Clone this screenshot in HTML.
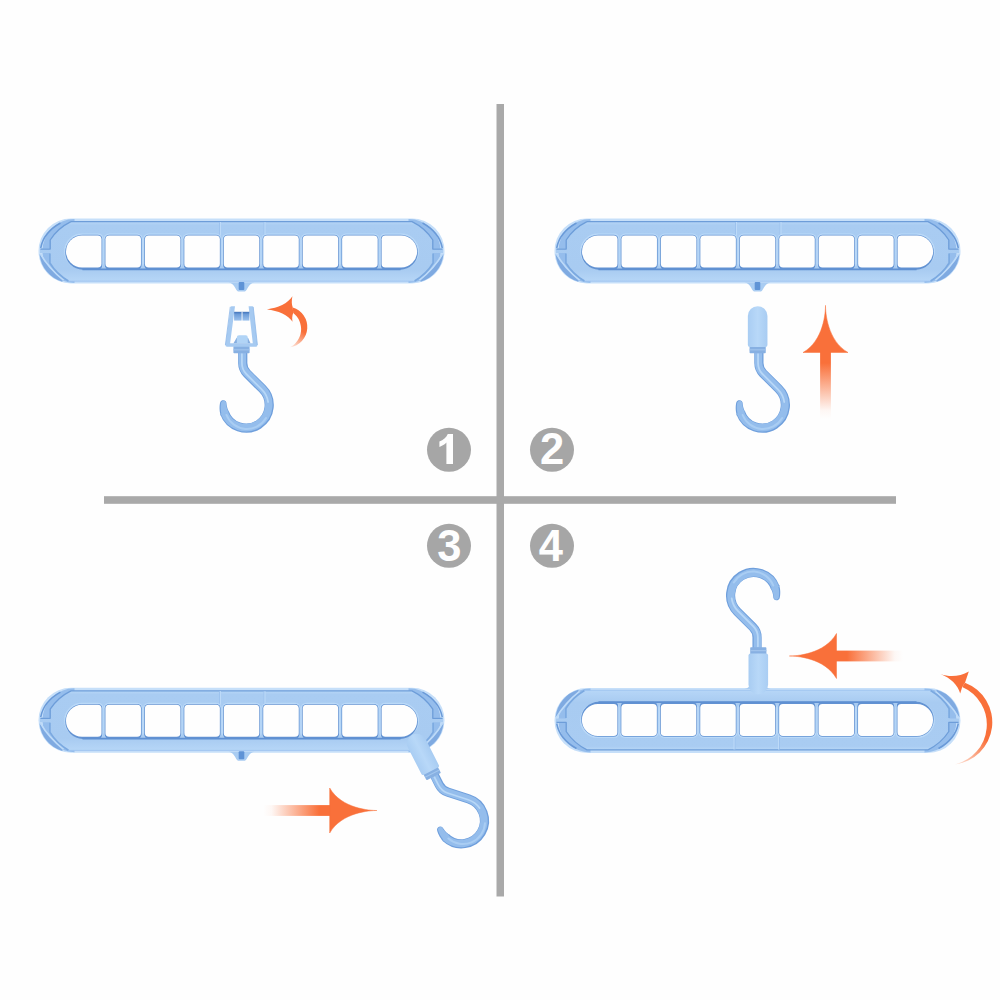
<!DOCTYPE html>
<html>
<head>
<meta charset="utf-8">
<title>Hanger steps</title>
<style>
html,body{margin:0;padding:0;background:#fefefe;}
body{width:1000px;height:1000px;overflow:hidden;font-family:"Liberation Sans",sans-serif;}
svg{display:block;}
</style>
</head>
<body>
<svg width="1000" height="1000" viewBox="0 0 1000 1000">
<defs>
  <linearGradient id="gBody" x1="0" y1="0" x2="0" y2="1">
    <stop offset="0" stop-color="#b7d6f6"/>
    <stop offset="0.06" stop-color="#a9ccf2"/>
    <stop offset="0.8" stop-color="#a8cbf1"/>
    <stop offset="1" stop-color="#b6d6f7"/>
  </linearGradient>
  <linearGradient id="gRim" x1="0" y1="0" x2="0" y2="1">
    <stop offset="0" stop-color="#86b4e8"/>
    <stop offset="1" stop-color="#8fbcee"/>
  </linearGradient>
  <linearGradient id="gFade" x1="0" y1="0" x2="1" y2="0">
    <stop offset="0" stop-color="#f9703a" stop-opacity="0"/>
    <stop offset="0.12" stop-color="#f9703a" stop-opacity="0.05"/>
    <stop offset="0.8" stop-color="#f9703a" stop-opacity="1"/>
    <stop offset="1" stop-color="#f9703a" stop-opacity="1"/>
  </linearGradient>
  <linearGradient id="gTail1" gradientUnits="userSpaceOnUse" x1="300" y1="330" x2="290" y2="348">
    <stop offset="0" stop-color="#f9703a" stop-opacity="1"/>
    <stop offset="1" stop-color="#f9703a" stop-opacity="0.1"/>
  </linearGradient>
  <linearGradient id="gTail4" gradientUnits="userSpaceOnUse" x1="985" y1="738" x2="955" y2="765">
    <stop offset="0" stop-color="#f9703a" stop-opacity="1"/>
    <stop offset="1" stop-color="#f9703a" stop-opacity="0.15"/>
  </linearGradient>
  <linearGradient id="gIns" x1="0" y1="0" x2="0" y2="1">
    <stop offset="0" stop-color="#3f72ba"/>
    <stop offset="0.3" stop-color="#6d9cd8"/>
    <stop offset="1" stop-color="#9cc2ee"/>
  </linearGradient>
  <linearGradient id="gCap" x1="0" y1="0" x2="1" y2="0">
    <stop offset="0" stop-color="#a9cdf3"/>
    <stop offset="0.5" stop-color="#b8d8f8"/>
    <stop offset="1" stop-color="#a8ccf2"/>
  </linearGradient>

  <!-- hanger: local origin at top-left of bounding box; size 406 x 65 -->
  <g id="hanger">
    <!-- outer body -->
    <rect x="0" y="0" width="406" height="65" rx="32.5" ry="32.5" fill="#c6dff9"/>
    <!-- dark end caps (show as crescents) -->
    <path d="M36,0.5 A32,32 0 0 0 36,64.5 Z" fill="#95bdec"/>
    <path d="M370,0.5 A32,32 0 0 1 370,64.5 Z" fill="#95bdec"/>
    <!-- darker outer band of upper crescents -->
    <path d="M22,4.5 C11,10.5 4,20 2.2,29.5" stroke="#6a9ad8" stroke-width="1.5" fill="none"/>
    <path d="M384,4.5 C395,10.5 402,20 403.8,29.5" stroke="#6a9ad8" stroke-width="1.5" fill="none"/>
    <!-- lower crescents: darker outer wedge + light diagonal streak -->
    <path d="M404.3,35.8 Q396.5,50 381.5,61.8 L382.3,63.2 A31.6,31.6 0 0 0 404.9,36 Z" fill="#7faae1"/>
    <path d="M1.7,35.8 Q9.5,50 24.5,61.8 L23.7,63.2 A31.6,31.6 0 0 1 1.1,36 Z" fill="#7faae1"/>
    <path d="M404,35.6 Q396,49.5 381,61.6" stroke="#bddaf8" stroke-width="1.7" fill="none"/>
    <path d="M2,35.6 Q10,49.5 25,61.6" stroke="#bddaf8" stroke-width="1.7" fill="none"/>
    <!-- inner raised area with chamfered ends -->
    <path d="M32.5,3.2 H373.5 Q386.5,9.5 394.3,21.5 V30 H404.5 V34.5 H394.3 V44.5 Q388,55.5 376,62.5 H30 Q18,55.5 11.7,44.5 V34.5 H1.5 V30 H11.7 V21.5 Q19.5,9.5 32.5,3.2 Z" fill="url(#gBody)"/>
    <!-- ridge dark lines -->
    <path d="M32.5,3.2 H373.5 Q386.5,9.5 394.3,21.5 V30.6 H404" stroke="#6d9dd9" stroke-width="1.3" fill="none" stroke-linejoin="round"/>
    <path d="M32.5,3.2 Q19.5,9.5 11.7,21.5 V30.6 H2" stroke="#6d9dd9" stroke-width="1.3" fill="none" stroke-linejoin="round"/>
    <path d="M394.6,35 V44.5 Q388,55.5 376,62.5" stroke="#7ba9e0" stroke-width="1.6" fill="none"/>
    <path d="M11.4,35 V44.5 Q18,55.5 30,62.5" stroke="#7ba9e0" stroke-width="1.6" fill="none"/>
    <path d="M30,62.7 H376" stroke="#9dc3ef" stroke-width="0.9" fill="none"/>
    <!-- bottom notch -->
    <path d="M190,64 C196,64.5 197,72 199.5,73 H206.5 C209,72 210,64.5 216,64 Z" fill="#a9ccf2"/>
    <rect x="200.2" y="63.5" width="5.6" height="8" rx="1" fill="#5f93d6"/>
    <!-- centre seam lines -->
    <path d="M181,3.5 V17 M225.5,3.5 V17" stroke="#9cc2ee" stroke-width="1" fill="none"/>
    <path d="M182,3.5 V17 M226.5,3.5 V17" stroke="#bddaf8" stroke-width="1" fill="none"/>
    <!-- hole light rims -->
    <g fill="#bad9f8">
      <path d="M43.40,15.00 H59.30 Q64.90,15.00 64.90,20.60 V45.00 Q64.90,50.60 59.30,50.60 H43.40 A17.80,17.80 0 0 1 43.40,15.00 Z"/>
      <rect x="65.05" y="15.00" width="39.30" height="35.60" rx="5.6"/>
      <rect x="104.50" y="15.00" width="39.30" height="35.60" rx="5.6"/>
      <rect x="143.95" y="15.00" width="39.30" height="35.60" rx="5.6"/>
      <rect x="183.40" y="15.00" width="39.30" height="35.60" rx="5.6"/>
      <rect x="222.85" y="15.00" width="39.30" height="35.60" rx="5.6"/>
      <rect x="262.30" y="15.00" width="39.30" height="35.60" rx="5.6"/>
      <rect x="301.75" y="15.00" width="39.30" height="35.60" rx="5.6"/>
      <path d="M362.70,15.00 H346.80 Q341.20,15.00 341.20,20.60 V45.00 Q341.20,50.60 346.80,50.60 H362.70 A17.80,17.80 0 0 0 362.70,15.00 Z"/>
    </g>
    <!-- hole shadows -->
    <g fill="#6292d2">
      <path d="M44.25,16.20 H59.15 Q63.75,16.20 63.75,20.80 V46.60 Q63.75,51.20 59.15,51.20 H44.25 A17.50,17.50 0 0 1 44.25,16.20 Z"/>
      <rect x="66.20" y="16.20" width="37.00" height="35.00" rx="4.6"/>
      <rect x="105.65" y="16.20" width="37.00" height="35.00" rx="4.6"/>
      <rect x="145.10" y="16.20" width="37.00" height="35.00" rx="4.6"/>
      <rect x="184.55" y="16.20" width="37.00" height="35.00" rx="4.6"/>
      <rect x="224.00" y="16.20" width="37.00" height="35.00" rx="4.6"/>
      <rect x="263.45" y="16.20" width="37.00" height="35.00" rx="4.6"/>
      <rect x="302.90" y="16.20" width="37.00" height="35.00" rx="4.6"/>
      <path d="M361.85,16.20 H346.95 Q342.35,16.20 342.35,20.80 V46.60 Q342.35,51.20 346.95,51.20 H361.85 A17.50,17.50 0 0 0 361.85,16.20 Z"/>
    </g>
    <path d="M44,50.9 H362" stroke="#5f90d2" stroke-width="1.7" fill="none"/>
    <!-- holes -->
    <g fill="#fefefe">
      <path d="M43.50,17.00 H59.20 Q63.00,17.00 63.00,20.80 V45.20 Q63.00,49.00 59.20,49.00 H43.50 A16.00,16.00 0 0 1 43.50,17.00 Z"/>
      <rect x="66.95" y="17.00" width="35.50" height="32.00" rx="3.8"/>
      <rect x="106.40" y="17.00" width="35.50" height="32.00" rx="3.8"/>
      <rect x="145.85" y="17.00" width="35.50" height="32.00" rx="3.8"/>
      <rect x="185.30" y="17.00" width="35.50" height="32.00" rx="3.8"/>
      <rect x="224.75" y="17.00" width="35.50" height="32.00" rx="3.8"/>
      <rect x="264.20" y="17.00" width="35.50" height="32.00" rx="3.8"/>
      <rect x="303.65" y="17.00" width="35.50" height="32.00" rx="3.8"/>
      <path d="M362.60,17.00 H346.90 Q343.10,17.00 343.10,20.80 V45.20 Q343.10,49.00 346.90,49.00 H362.60 A16.00,16.00 0 0 0 362.60,17.00 Z"/>
    </g>
  </g>

  <!-- hook wire: local origin = capsule top centre, pointing down -->
  <g id="wire">
    <path d="M1.25,46 V57 Q1.25,63.1 5.5,67.4 L20.96,82.84 A23,23 0 1 1 -16.91,106.97" fill="none" stroke="#6f9fdc" stroke-width="9.2"/>
    <path d="M-20.89,109.44 L-21.14,108.51 L-21.36,107.57 L-21.54,106.62 L-21.69,105.68 L-21.81,104.73 L-21.89,103.79 L-21.94,102.84 L-21.95,101.90 L-21.93,100.96 L-21.88,100.03 L-21.80,99.10 L-21.68,98.18 L-21.54,97.27 L-21.20,96.02 L-20.41,95.01 L-19.29,94.37 L-18.01,94.20 L-16.77,94.54 L-15.75,95.33 L-15.11,96.45 L-14.95,97.73 L-14.89,98.42 L-14.80,99.10 L-14.69,99.78 L-14.55,100.45 L-14.39,101.11 L-14.21,101.76 L-14.01,102.40 L-13.79,103.03 L-13.54,103.65 L-13.28,104.25 L-12.99,104.85 L-12.68,105.43 L-12.36,105.99 Z" fill="#6f9fdc"/>
    <path d="M1.25,46 V57 Q1.25,63.1 5.5,67.4 L20.96,82.84 A23,23 0 1 1 -16.91,106.97" fill="none" stroke="#94bdec" stroke-width="7.4" transform="translate(-0.35,-0.45)"/>
    <path d="M-19.76,108.90 L-20.00,108.00 L-20.22,107.09 L-20.40,106.18 L-20.55,105.27 L-20.67,104.36 L-20.75,103.44 L-20.80,102.53 L-20.82,101.61 L-20.81,100.70 L-20.76,99.80 L-20.68,98.90 L-20.58,98.01 L-20.44,97.12 L-20.18,96.18 L-19.58,95.41 L-18.74,94.92 L-17.77,94.80 L-16.83,95.06 L-16.06,95.66 L-15.57,96.50 L-15.45,97.47 L-15.40,98.19 L-15.32,98.90 L-15.21,99.61 L-15.08,100.30 L-14.93,100.99 L-14.75,101.68 L-14.55,102.35 L-14.33,103.01 L-14.08,103.66 L-13.82,104.30 L-13.53,104.92 L-13.22,105.53 L-12.89,106.13 Z" fill="#94bdec"/>
    <path d="M0.4,48 V57 Q0.4,63.5 4.8,68 L20.2,83.4 A22.2,22.2 0 0 1 26.6,96" fill="none" stroke="#b7d7f7" stroke-width="1.8" stroke-linecap="round"/>
    <path d="M24.5,112 A22,22 0 0 1 -15,109" fill="none" stroke="#a9cdf3" stroke-width="2" stroke-linecap="round"/>
    <rect x="-8.1" y="40" width="16.2" height="7.2" rx="0.8" fill="#87b0e2"/>
    <rect x="-8.1" y="43.3" width="16.2" height="1.1" fill="#a3c6ee"/>
  </g>
  <g id="hook">
    <use href="#wire"/>
    <path d="M-9.8,10 A9.8,9.8 0 0 1 9.8,10 V39 Q9.8,41 7.8,41 H-7.8 Q-9.8,41 -9.8,39 Z" fill="url(#gCap)"/>
  </g>

  <!-- straight arrow pointing right, tip at 0,0 -->
  <g id="arrow">
    <rect x="-112" y="-5.4" width="70" height="10.8" fill="url(#gFade)"/>
    <path d="M1.6,0 C-5,0 -33.6,-1.7 -45.5,-22.5 V22.5 C-33.6,1.7 -5,0 1.6,0 Z" fill="#f9703a" stroke="#f9703a" stroke-width="0.5" stroke-linejoin="miter" stroke-miterlimit="20"/>
  </g>
</defs>

<rect x="0" y="0" width="1000" height="1000" fill="#fefefe"/>

<!-- dividers -->
<rect x="496.5" y="104" width="7.5" height="792.5" fill="#a9a9a9"/>
<rect x="104" y="496.2" width="792" height="7.6" fill="#a9a9a9"/>

<!-- number badges -->
<g font-family="'Liberation Sans', sans-serif" font-weight="bold" font-size="43.5" fill="#fefefe" text-anchor="middle">
  <circle cx="449" cy="449.8" r="22" fill="#a6a6a6"/>
  <path d="M453,434 V464 H446.4 V442.6 C444.6,444.6 442.300,446 439.4,447 V441.5 C443.300,440 446.300,437.500 447.8,434 Z"/>
  <circle cx="552" cy="449.8" r="22" fill="#a6a6a6"/>
  <text x="552" y="464">2</text>
  <circle cx="449" cy="545.8" r="22" fill="#a6a6a6"/>
  <text x="449.3" y="560.5">3</text>
  <circle cx="552" cy="545.8" r="22" fill="#a6a6a6"/>
  <text x="550.8" y="560.5">4</text>
</g>

<!-- panel 1 -->
<use href="#hanger" x="38.5" y="218.5"/>
<g transform="translate(241.5,306)">
  <use href="#wire"/>
  <!-- clip frame -->
  <path d="M-10.8,0.9 Q-10.7,0.2 -10,0.2 H-6.5 L-11.4,37.3 H11.3 L7.1,0.2 H10.9 Q11.600,0.2 11.7,0.9 L15.9,39 Q16,40.8 14.3,40.8 H-14.5 Q-16.300,40.8 -16.100,39 Z" fill="#a6caf1"/>
  <path d="M-11.2,0.8 L-16.100,39" stroke="#8db7ea" stroke-width="0.8" fill="none"/>
  <path d="M11.7,0.9 L15.9,39" stroke="#8db7ea" stroke-width="0.8" fill="none"/>
  <rect x="-7.4" y="5.8" width="15.3" height="8.8" fill="url(#gIns)"/>
  <rect x="0.1" y="5.8" width="0.9" height="10" fill="#fefefe"/>
  <path d="M-8,37.3 L-5,32 H6.600 L9,37.3 Z" fill="#86aee0"/>
  <path d="M-4.7,37.3 V31.400 Q-4.7,29.2 -2.500,29.2 H4.100 Q6.300,29.2 6.300,31.400 V37.3 Z" fill="#b1d4f6"/>
</g>
<!-- curved arrow 1 -->
<path d="M292.8,307.4 A20.53,20.53 0 0 1 290,347.3 A20.41,20.41 0 0 0 293.2,313 Z" fill="url(#gTail1)"/>
<path d="M266.9,309.4 C278,307.8 288,303.5 292.4,296.3 C291.5,301 291.6,304.5 292.8,307.4 L293.2,313 C292,316 292,319 292.6,321.8 C288.500,315 278,310.500 266.9,309.4 Z" fill="#f9703a"/>

<!-- panel 2 -->
<use href="#hanger" x="554.5" y="218.5"/>
<use href="#hook" transform="translate(757.65,306)"/>
<use href="#arrow" transform="translate(825.5,307) rotate(-90)"/>

<!-- panel 3 -->
<use href="#hanger" x="38.5" y="687.7"/>
<use href="#hook" transform="translate(412.3,734.6) rotate(-27)"/>
<use href="#arrow" transform="translate(375.2,810.5)"/>

<!-- panel 4 -->
<use href="#hanger" transform="translate(960.5,753) rotate(180)"/>
<use href="#hook" transform="translate(758.3,694.5) rotate(180)"/>
<use href="#arrow" transform="translate(791,656) rotate(180)"/>
<!-- curved arrow 4 -->
<path d="M965,682.7 A42.37,42.37 0 0 1 954.7,764.4 A40.86,40.86 0 0 0 962.2,687 Z" fill="url(#gTail4)"/>
<path d="M940.5,674 C950,677.5 960,676.5 968.8,671.5 L965,682.7 L962.2,687 L960.2,693.6 C958,685 950.500,678 940.5,674 Z" fill="#f9703a"/>
</svg>
</body>
</html>
